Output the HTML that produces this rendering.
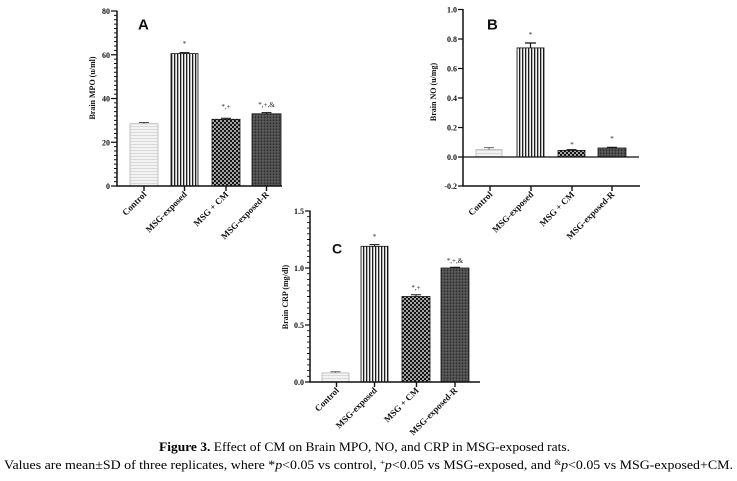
<!DOCTYPE html>
<html>
<head>
<meta charset="utf-8">
<style>
  html,body{margin:0;padding:0;background:#fff;}
  svg{display:block;}
  .tk{font-family:"Liberation Serif",serif;font-weight:bold;font-size:8px;fill:#111;}
  .xl{font-family:"Liberation Serif",serif;font-weight:bold;font-size:9px;fill:#111;}
  .yt{font-family:"Liberation Serif",serif;font-weight:bold;font-size:8px;fill:#111;}
  .pl{font-family:"Liberation Sans",sans-serif;font-weight:bold;fill:#111;}
  .sg{font-family:"Liberation Serif",serif;font-size:7px;fill:#222;}
  .cap{font-family:"Liberation Serif",serif;font-size:13px;fill:#000;}
</style>
</head>
<body>
<svg width="737" height="481" viewBox="0 0 737 481" xmlns="http://www.w3.org/2000/svg">
<defs>
  <pattern id="pC" width="4" height="3" patternUnits="userSpaceOnUse">
    <rect width="4" height="3" fill="#f3f3f3"/>
    <rect width="4" height="1" fill="#dadada"/>
  </pattern>
  <pattern id="pV" width="3" height="4" patternUnits="userSpaceOnUse">
    <rect width="3" height="4" fill="#f4f4f4"/>
    <rect width="1.3" height="4" fill="#1e1e1e"/>
  </pattern>
  <pattern id="pK" width="4" height="4" patternUnits="userSpaceOnUse">
    <rect width="4" height="4" fill="#141414"/>
    <rect x="0.2" y="0.2" width="1.6" height="1.6" fill="#f5f5f5"/>
    <rect x="2.2" y="2.2" width="1.6" height="1.6" fill="#f5f5f5"/>
  </pattern>
  <pattern id="pR" width="3" height="3" patternUnits="userSpaceOnUse">
    <rect width="3" height="3" fill="#4c4c4c"/>
    <rect width="1" height="3" fill="#2c2c2c"/>
    <rect y="1.5" width="3" height="0.8" fill="#6a6a6a"/>
  </pattern>
</defs>

<!-- ================= Panel A ================= -->
<g>
  <!-- bars -->
  <rect x="130" y="123.7" width="28" height="62.3" fill="url(#pC)" stroke="#b5b5b5" stroke-width="0.8"/>
  <rect x="171" y="53.6" width="27" height="132.4" fill="url(#pV)" stroke="#111" stroke-width="0.8"/>
  <rect x="212" y="119.3" width="28" height="66.7" fill="url(#pK)" stroke="#111" stroke-width="0.8"/>
  <rect x="252" y="113.8" width="29" height="72.2" fill="url(#pR)" stroke="#111" stroke-width="0.8"/>
  <!-- error bars -->
  <path d="M144 123.7V122.5M139 122.5h10" stroke="#555" stroke-width="1"/>
  <path d="M184.5 53.6V52.6M179.5 52.6h10" stroke="#111" stroke-width="1"/>
  <path d="M226 119.3V118.3M221 118.3h10" stroke="#111" stroke-width="1"/>
  <path d="M266.5 113.8V112.6M261.5 112.6h10" stroke="#111" stroke-width="1"/>
  <!-- axes -->
  <path d="M117 10.5V186.7M116.3 186H282" stroke="#111" stroke-width="1.5" fill="none"/>
  <path d="M111 186h6M111 142.25h6M111 98.5h6M111 54.75h6M111 11h6" stroke="#111" stroke-width="1.2"/>
  <path d="M114 181.625h3M114 177.25h3M114 172.875h3M114 168.5h3M114 164.125h3M114 159.75h3M114 155.375h3M114 151h3M114 146.625h3M114 137.875h3M114 133.5h3M114 129.125h3M114 124.75h3M114 120.375h3M114 116h3M114 111.625h3M114 107.25h3M114 102.875h3M114 94.125h3M114 89.75h3M114 85.375h3M114 81h3M114 76.625h3M114 72.25h3M114 67.875h3M114 63.5h3M114 59.125h3M114 50.375h3M114 46h3M114 41.625h3M114 37.25h3M114 32.875h3M114 28.5h3M114 24.125h3M114 19.75h3M114 15.375h3" stroke="#111" stroke-width="0.9"/>
  <path d="M144 186v5M184.5 186v5M226 186v5M266.5 186v5" stroke="#111" stroke-width="1.4"/>
  <!-- tick labels -->
  <text class="tk" x="110" y="189" text-anchor="end">0</text>
  <text class="tk" x="110" y="145.3" text-anchor="end">20</text>
  <text class="tk" x="110" y="101.5" text-anchor="end">40</text>
  <text class="tk" x="110" y="57.8" text-anchor="end">60</text>
  <text class="tk" x="110" y="14" text-anchor="end">80</text>
  <text class="yt" transform="translate(95,88) rotate(-90)" text-anchor="middle">Brain MPO (u/ml)</text>
  <text class="pl" x="138" y="29.5" font-size="15">A</text>
  <!-- x labels -->
  <text class="xl" transform="translate(147,195) rotate(-45)" text-anchor="end">Control</text>
  <text class="xl" transform="translate(187.5,195) rotate(-45)" text-anchor="end">MSG-exposed</text>
  <text class="xl" transform="translate(229,195) rotate(-45)" text-anchor="end">MSG + CM</text>
  <text class="xl" transform="translate(269.5,195) rotate(-45)" text-anchor="end">MSG-exposed-R</text>
  <!-- significance -->
  <text class="sg" x="184.5" y="46" text-anchor="middle">*</text>
  <text class="sg" x="226" y="109" text-anchor="middle">*,+</text>
  <text class="sg" x="266.5" y="107" text-anchor="middle">*,+,&amp;</text>
</g>

<!-- ================= Panel B ================= -->
<g>
  <rect x="476" y="149.6" width="26" height="7.4" fill="url(#pC)" stroke="#b5b5b5" stroke-width="0.8"/>
  <rect x="517" y="47.9" width="27" height="109.1" fill="url(#pV)" stroke="#111" stroke-width="0.8"/>
  <rect x="558" y="150.4" width="27" height="6.6" fill="url(#pK)" stroke="#111" stroke-width="0.8"/>
  <rect x="598" y="148" width="28" height="9" fill="url(#pR)" stroke="#111" stroke-width="0.8"/>
  <path d="M489 149.6V147.6M484 147.6h10" stroke="#666" stroke-width="1"/>
  <path d="M530.5 47.9V43M525 43h11" stroke="#111" stroke-width="1.2"/>
  <path d="M571.5 150.4V149.6M566.5 149.6h10" stroke="#111" stroke-width="1"/>
  <path d="M612 148V147.2M607 147.2h10" stroke="#111" stroke-width="1"/>
  <!-- axes -->
  <path d="M463 9V186.7M462.3 186H640" stroke="#111" stroke-width="1.5" fill="none"/>
  <path d="M463 157H639" stroke="#111" stroke-width="1.2"/>
  <path d="M458 186h5M458 157h5M458 127.5h5M458 98h5M458 68.5h5M458 39h5M458 9.5h5" stroke="#111" stroke-width="1.2"/>
  <path d="M490 186v5M531 186v5M572 186v5M612 186v5" stroke="#111" stroke-width="1.4"/>
  <text class="tk" x="457" y="189" text-anchor="end">-0.2</text>
  <text class="tk" x="457" y="160" text-anchor="end">0.0</text>
  <text class="tk" x="457" y="130.5" text-anchor="end">0.2</text>
  <text class="tk" x="457" y="101" text-anchor="end">0.4</text>
  <text class="tk" x="457" y="71.5" text-anchor="end">0.6</text>
  <text class="tk" x="457" y="42" text-anchor="end">0.8</text>
  <text class="tk" x="457" y="12.5" text-anchor="end">1.0</text>
  <text class="yt" transform="translate(436,92) rotate(-90)" text-anchor="middle">Brain NO (u/mg)</text>
  <text class="pl" x="487" y="29.5" font-size="15">B</text>
  <text class="xl" transform="translate(493,195) rotate(-45)" text-anchor="end">Control</text>
  <text class="xl" transform="translate(534,195) rotate(-45)" text-anchor="end">MSG-exposed</text>
  <text class="xl" transform="translate(575,195) rotate(-45)" text-anchor="end">MSG + CM</text>
  <text class="xl" transform="translate(615,195) rotate(-45)" text-anchor="end">MSG-exposed-R</text>
  <text class="sg" x="530.5" y="37" text-anchor="middle">*</text>
  <text class="sg" x="572" y="147" text-anchor="middle">*</text>
  <text class="sg" x="612" y="141" text-anchor="middle">*</text>
</g>

<!-- ================= Panel C ================= -->
<g>
  <rect x="322" y="372.9" width="27" height="9.1" fill="url(#pC)" stroke="#b5b5b5" stroke-width="0.8"/>
  <rect x="361" y="246.3" width="27" height="135.7" fill="url(#pV)" stroke="#111" stroke-width="0.8"/>
  <rect x="402" y="296.5" width="28" height="85.5" fill="url(#pK)" stroke="#111" stroke-width="0.8"/>
  <rect x="441" y="268" width="28" height="114" fill="url(#pR)" stroke="#111" stroke-width="0.8"/>
  <path d="M335.5 372.9V371.8M330.5 371.8h10" stroke="#666" stroke-width="1"/>
  <path d="M374.5 246.3V244.6M369.5 244.6h10" stroke="#111" stroke-width="1"/>
  <path d="M416 296.5V294.8M411 294.8h10" stroke="#111" stroke-width="1"/>
  <path d="M455 268V267.2M450 267.2h10" stroke="#111" stroke-width="1"/>
  <!-- axes -->
  <path d="M310 210.5V382.7M309.3 382H480" stroke="#111" stroke-width="1.5" fill="none"/>
  <path d="M305 382h5M305 325h5M305 268h5M305 211h5" stroke="#111" stroke-width="1.2"/>
  <path d="M307 376.3h3M307 370.6h3M307 364.9h3M307 359.2h3M307 353.5h3M307 347.8h3M307 342.1h3M307 336.4h3M307 330.7h3M307 319.3h3M307 313.6h3M307 307.9h3M307 302.2h3M307 296.5h3M307 290.8h3M307 285.1h3M307 279.4h3M307 273.7h3M307 262.3h3M307 256.6h3M307 250.9h3M307 245.2h3M307 239.5h3M307 233.8h3M307 228.1h3M307 222.4h3M307 216.7h3" stroke="#111" stroke-width="0.9"/>
  <path d="M336.5 382v5M374.5 382v5M416.5 382v5M455 382v5" stroke="#111" stroke-width="1.4"/>
  <text class="tk" x="304" y="385" text-anchor="end">0.0</text>
  <text class="tk" x="304" y="328" text-anchor="end">0.5</text>
  <text class="tk" x="304" y="271" text-anchor="end">1.0</text>
  <text class="tk" x="304" y="214" text-anchor="end">1.5</text>
  <text class="yt" transform="translate(288,297) rotate(-90)" text-anchor="middle">Brain CRP (mg/dl)</text>
  <text class="pl" x="332" y="253.5" font-size="14">C</text>
  <text class="xl" transform="translate(339.5,391) rotate(-45)" text-anchor="end">Control</text>
  <text class="xl" transform="translate(377.5,391) rotate(-45)" text-anchor="end">MSG-exposed</text>
  <text class="xl" transform="translate(419.5,391) rotate(-45)" text-anchor="end">MSG + CM</text>
  <text class="xl" transform="translate(458,391) rotate(-45)" text-anchor="end">MSG-exposed-R</text>
  <text class="sg" x="374.5" y="239" text-anchor="middle">*</text>
  <text class="sg" x="416" y="290" text-anchor="middle">*,+</text>
  <text class="sg" x="455" y="263" text-anchor="middle">*,+,&amp;</text>
</g>

<!-- ================= Caption ================= -->
<text class="cap" x="159" y="451" textLength="411" lengthAdjust="spacingAndGlyphs"><tspan font-weight="bold">Figure 3.</tspan> Effect of CM on Brain MPO, NO, and CRP in MSG-exposed rats.</text>
<text class="cap" x="4" y="469" textLength="729" lengthAdjust="spacingAndGlyphs">Values are mean±SD of three replicates, where *<tspan font-style="italic">p</tspan>&lt;0.05 vs control, <tspan font-size="8" dy="-4">+</tspan><tspan font-style="italic" dy="4">p</tspan>&lt;0.05 vs MSG-exposed, and <tspan font-size="8" dy="-4">&amp;</tspan><tspan font-style="italic" dy="4">p</tspan>&lt;0.05 vs MSG-exposed+CM.</text>
</svg>
</body>
</html>
